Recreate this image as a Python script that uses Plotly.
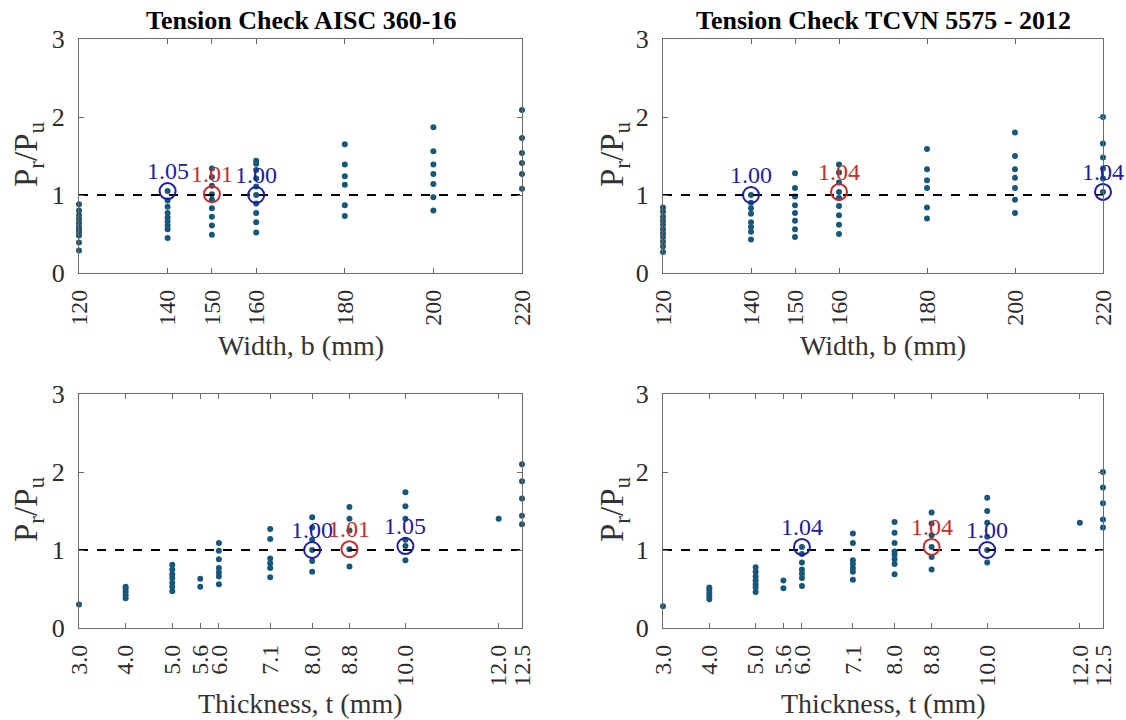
import plotly.graph_objects as go

# ---------------- data ----------------
width_ticks = [120, 140, 150, 160, 180, 200, 220]
thick_ticks = [3.0, 4.0, 5.0, 5.6, 6.0, 7.1, 8.0, 8.8, 10.0, 12.0, 12.5]
thick_labels = ["3.0", "4.0", "5.0", "5.6", "6.0", "7.1", "8.0", "8.8", "10.0", "12.0", "12.5"]

# AISC 360-16 vs width
aisc_w_vals = [
    [0.88, 0.80, 0.74, 0.69, 0.64, 0.59, 0.56, 0.53, 0.48, 0.39, 0.29],
    [1.05, 0.93, 0.85, 0.77, 0.71, 0.66, 0.61, 0.56, 0.45],
    [1.34, 1.23, 1.12, 1.01, 0.94, 0.83, 0.72, 0.61, 0.49],
    [1.44, 1.40, 1.32, 1.21, 1.11, 1.00, 0.89, 0.77, 0.65, 0.52],
    [1.65, 1.39, 1.24, 1.13, 0.87, 0.73],
    [1.87, 1.56, 1.39, 1.27, 1.14, 0.97, 0.80],
    [2.09, 1.73, 1.54, 1.41, 1.27, 1.08],
]
# TCVN 5575-2012 vs width
tcvn_w_vals = [
    [0.84, 0.79, 0.72, 0.67, 0.62, 0.56, 0.51, 0.46, 0.40, 0.34, 0.27],
    [1.00, 0.90, 0.83, 0.76, 0.65, 0.59, 0.53, 0.43],
    [1.28, 1.09, 0.98, 0.87, 0.77, 0.67, 0.56, 0.46],
    [1.39, 1.29, 1.16, 1.04, 0.96, 0.86, 0.74, 0.62, 0.50],
    [1.59, 1.33, 1.19, 1.09, 0.84, 0.70],
    [1.80, 1.50, 1.33, 1.22, 1.09, 0.94, 0.77],
    [2.00, 1.66, 1.48, 1.34, 1.21, 1.04],
]
# AISC 360-16 vs thickness
aisc_t_vals = [
    [0.30],
    [0.53, 0.50, 0.46, 0.42, 0.38],
    [0.81, 0.75, 0.69, 0.64, 0.58, 0.53, 0.47],
    [0.63, 0.53],
    [1.09, 0.99, 0.88, 0.77, 0.71, 0.66, 0.56],
    [1.27, 1.14, 0.89, 0.83, 0.77, 0.65],
    [1.42, 1.29, 1.13, 1.00, 0.86, 0.72],
    [1.55, 1.40, 1.25, 1.01, 0.79],
    [1.74, 1.56, 1.40, 1.13, 1.05, 0.87],
    [1.40],
    [2.10, 1.88, 1.66, 1.44, 1.33],
]
# TCVN 5575-2012 vs thickness
tcvn_t_vals = [
    [0.28],
    [0.52, 0.49, 0.45, 0.41, 0.37],
    [0.78, 0.72, 0.66, 0.61, 0.56, 0.52, 0.46],
    [0.61, 0.51],
    [1.04, 0.95, 0.84, 0.75, 0.70, 0.64, 0.54],
    [1.21, 1.09, 0.87, 0.82, 0.77, 0.72, 0.62],
    [1.36, 1.22, 1.09, 0.98, 0.94, 0.88, 0.82, 0.69],
    [1.48, 1.34, 1.19, 1.04, 0.91, 0.75],
    [1.67, 1.50, 1.35, 1.17, 1.00, 0.84],
    [1.35],
    [2.00, 1.80, 1.60, 1.39, 1.29],
]

# highlighted points: (x, value, colour key)
aisc_w_marks = [(140, 1.05, "b"), (150, 1.01, "r"), (160, 1.00, "b")]
tcvn_w_marks = [(140, 1.00, "b"), (160, 1.04, "r"), (220, 1.04, "b")]
aisc_t_marks = [(8.0, 1.00, "b"), (8.8, 1.01, "r"), (10.0, 1.05, "b")]
tcvn_t_marks = [(6.0, 1.04, "b"), (8.8, 1.04, "r"), (10.0, 1.00, "b")]

titles = ["Tension Check AISC 360-16", "Tension Check TCVN 5575 - 2012"]
x_titles = ["Width, b (mm)", "Thickness, t (mm)"]
y_title = "P<sub>r</sub>/P<sub>u</sub>"

# ---------------- style ----------------
DOT = "#17587a"
COL = {"b": "#1c1ca6", "r": "#cc2a2a"}
FONT = "Liberation Serif"
AX = "#6b6b6b"

fig = go.Figure()

panels = [
    ("x", "y", width_ticks, aisc_w_vals, aisc_w_marks),
    ("x2", "y2", width_ticks, tcvn_w_vals, tcvn_w_marks),
    ("x3", "y3", thick_ticks, aisc_t_vals, aisc_t_marks),
    ("x4", "y4", thick_ticks, tcvn_t_vals, tcvn_t_marks),
]

for xa, ya, cols, vals, marks in panels:
    xs, ys = [], []
    for c, v in zip(cols, vals):
        xs += [c] * len(v)
        ys += v
    fig.add_trace(go.Scatter(x=xs, y=ys, mode="markers", xaxis=xa, yaxis=ya,
                             marker=dict(color=DOT, size=6), cliponaxis=False,
                             showlegend=False, hoverinfo="x+y"))
    fig.add_trace(go.Scatter(x=[cols[0], cols[-1]], y=[1, 1], mode="lines", xaxis=xa, yaxis=ya,
                             line=dict(color="black", width=2, dash="dash"),
                             showlegend=False, hoverinfo="skip"))
    for mx, mv, ck in marks:
        fig.add_trace(go.Scatter(x=[mx], y=[mv], mode="markers", xaxis=xa, yaxis=ya,
                                 marker=dict(symbol="circle-open", size=16, color=COL[ck],
                                             line=dict(width=2, color=COL[ck])),
                                 cliponaxis=False, showlegend=False))
        fig.add_annotation(x=mx, y=mv, xref=xa, yref=ya, text=f"{mv:.2f}",
                           showarrow=False, xanchor="center", yanchor="bottom", yshift=5,
                           font=dict(family=FONT, size=24, color=COL[ck]))

W, H = 1126, 720
xpix = [(79, 522), (663, 1103)]
ypix = [(39, 273), (394, 628)]
xdoms = [[a / W, b / W] for a, b in xpix]
ydoms = [[1 - b / H, 1 - a / H] for a, b in ypix]

def xaxis_cfg(dom, ticks, labels, rng, anchor):
    return dict(domain=dom, range=rng, tickmode="array", tickvals=ticks, ticktext=labels,
                tickangle=-90, ticks="inside", ticklen=5, tickcolor=AX, showline=True,
                linecolor=AX, linewidth=1.2, mirror="ticks", showgrid=False, zeroline=False,
                tickfont=dict(family=FONT, size=24, color="#2a2a2a"), ticklabelstandoff=6,
                automargin=False, anchor=anchor)

def yaxis_cfg(dom, anchor):
    return dict(domain=dom, range=[0, 3], tickmode="array", tickvals=[0, 1, 2, 3],
                ticks="inside", ticklen=5, tickcolor=AX, showline=True, linecolor=AX,
                linewidth=1.2, mirror="ticks", showgrid=False, zeroline=False,
                tickfont=dict(family=FONT, size=26, color="#2a2a2a"), ticklabelstandoff=8,
                automargin=False, anchor=anchor)

wl = [str(v) for v in width_ticks]
fig.update_layout(
    width=W, height=H, margin=dict(l=0, r=0, t=0, b=0),
    paper_bgcolor="white", plot_bgcolor="white",
    xaxis=xaxis_cfg(xdoms[0], width_ticks, wl, [120, 220], "y"),
    xaxis2=xaxis_cfg(xdoms[1], width_ticks, wl, [120, 220], "y2"),
    xaxis3=xaxis_cfg(xdoms[0], thick_ticks, thick_labels, [3, 12.5], "y3"),
    xaxis4=xaxis_cfg(xdoms[1], thick_ticks, thick_labels, [3, 12.5], "y4"),
    yaxis=yaxis_cfg(ydoms[0], "x"),
    yaxis2=yaxis_cfg(ydoms[0], "x2"),
    yaxis3=yaxis_cfg(ydoms[1], "x3"),
    yaxis4=yaxis_cfg(ydoms[1], "x4"),
)

# panel titles
for (a, b), t in zip(xpix, titles):
    fig.add_annotation(x=(a + b) / 2 / W, y=1 - 20 / H, xref="paper", yref="paper",
                       text=f"<b>{t}</b>", showarrow=False, xanchor="center", yanchor="middle",
                       font=dict(family=FONT, size=26, color="black"))

# axis titles
xt_y = [345, 703]
yt_y = [154, 509]
yt_x = [28, 614]
for r in range(2):
    for c in range(2):
        a, b = xpix[c]
        fig.add_annotation(x=(a + b) / 2 / W, y=1 - xt_y[r] / H, xref="paper", yref="paper",
                           text=x_titles[r], showarrow=False, xanchor="center", yanchor="middle",
                           font=dict(family=FONT, size=28, color="#333333"))
        fig.add_annotation(x=yt_x[c] / W, y=1 - yt_y[r] / H, xref="paper", yref="paper",
                           text=y_title, showarrow=False, textangle=-90,
                           xanchor="center", yanchor="middle",
                           font=dict(family=FONT, size=33, color="#333333"))

fig.write_html("out.html")
